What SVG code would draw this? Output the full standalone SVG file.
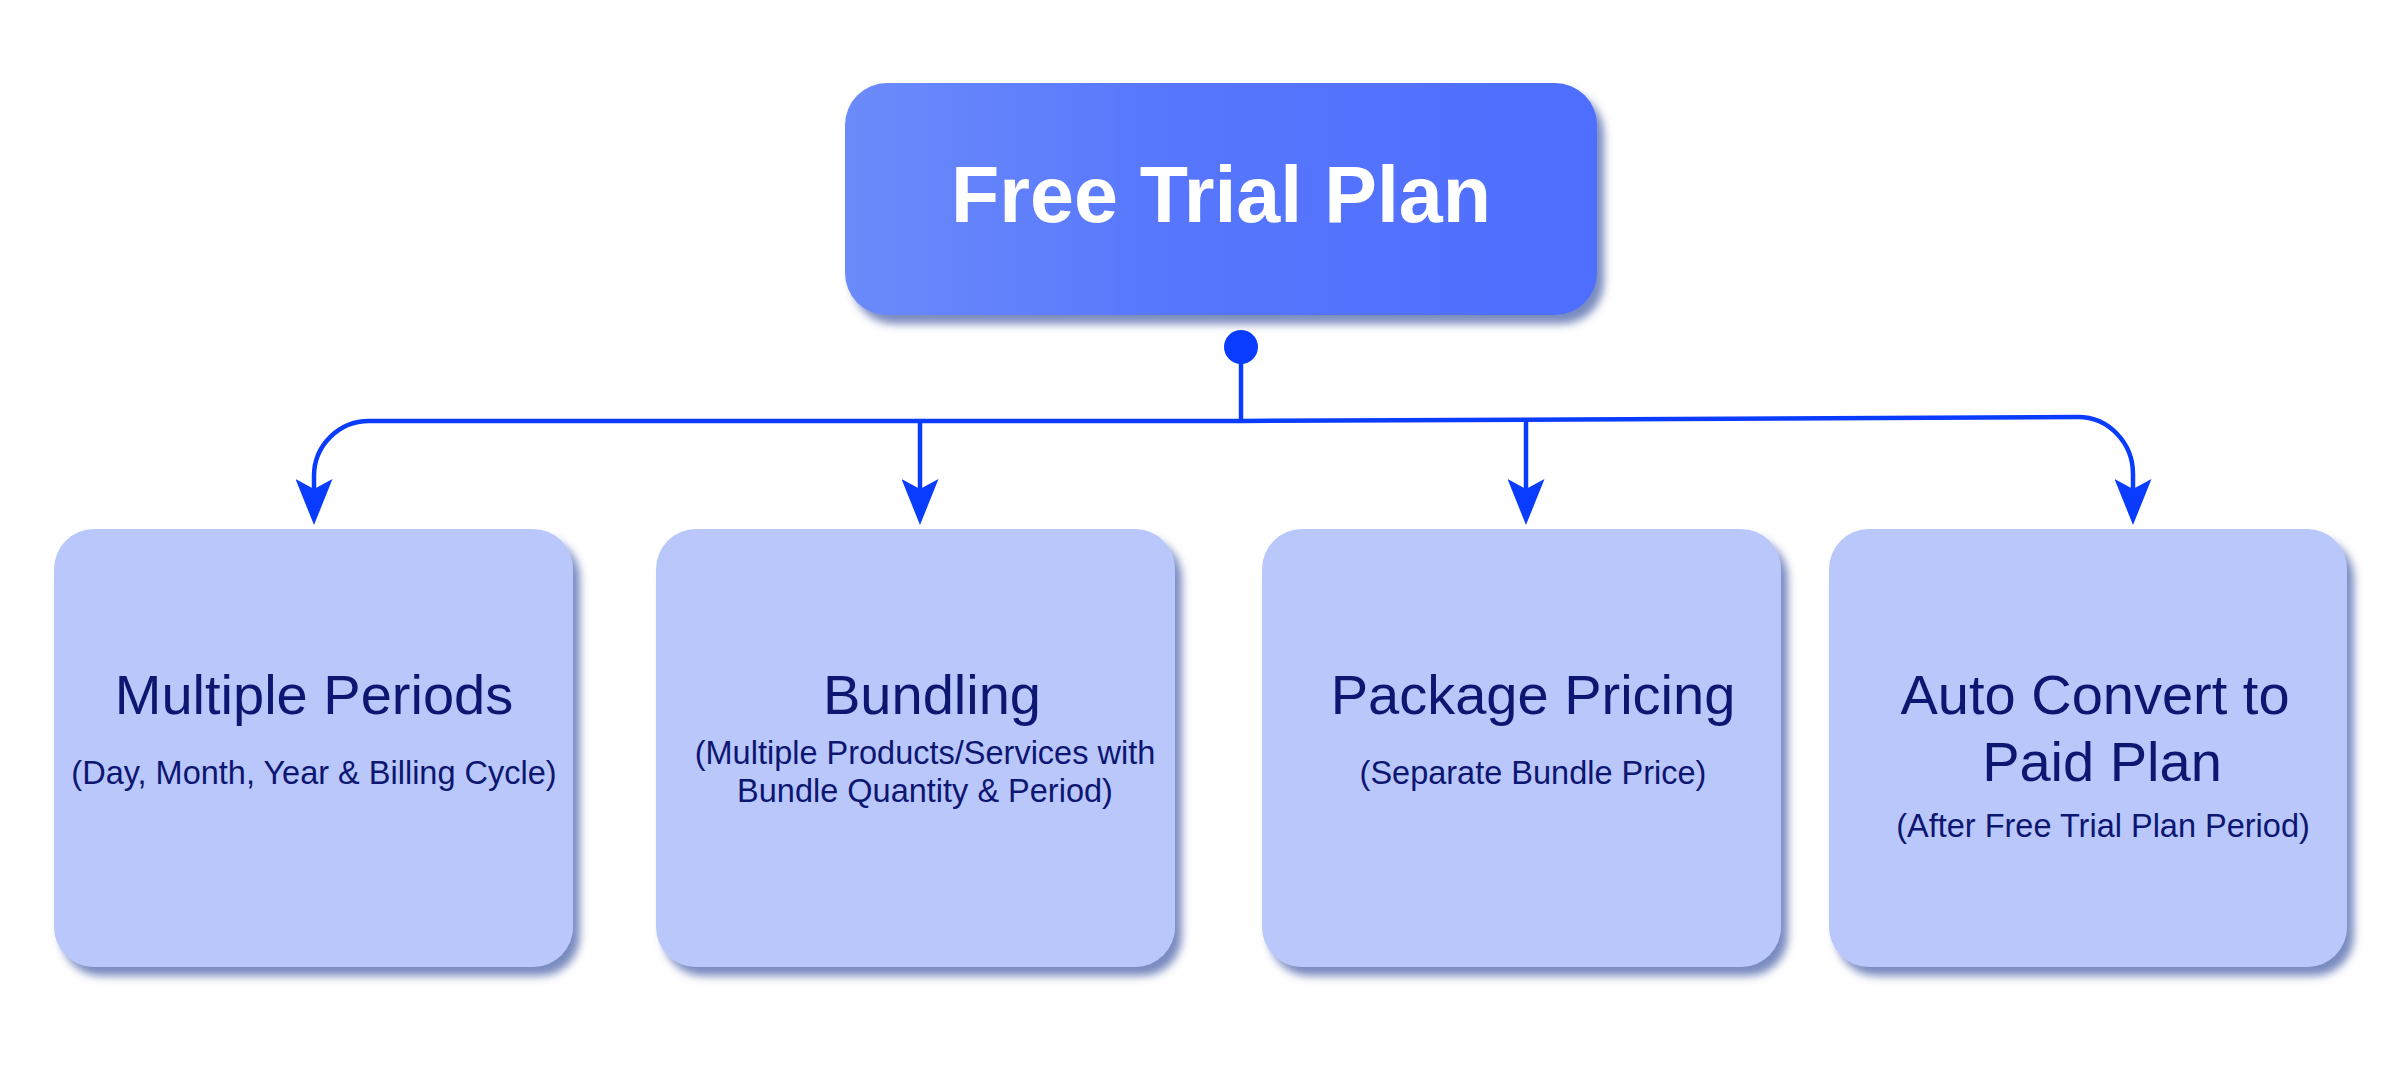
<svg xmlns="http://www.w3.org/2000/svg" width="2405" height="1084" viewBox="0 0 2405 1084">
<style>
.box{fill:#b9c7fb;filter:url(#sh);}
.t{font-family:"Liberation Sans",Arial,sans-serif;fill:#0d1670;text-anchor:middle;}
.h{font-size:56px;}
.s{font-size:32.5px;}
.c{fill:none;stroke:#0a3cff;stroke-width:4.5;}
</style>
<defs>
<linearGradient id="tg" x1="0" y1="0" x2="1" y2="0">
<stop offset="0" stop-color="#6c8bfa"/>
<stop offset="0.45" stop-color="#5676fd"/>
<stop offset="1" stop-color="#4e6efe"/>
</linearGradient>
<filter id="sh" x="-10%" y="-10%" width="125%" height="130%">
<feDropShadow dx="7" dy="9" stdDeviation="4.5" flood-color="#4e64aa" flood-opacity="0.75"/>
</filter>
<marker id="ah" viewBox="0 0 46 37" refX="16" refY="18.5" markerWidth="46" markerHeight="37" markerUnits="userSpaceOnUse" orient="auto">
<path d="M0,0 L46,18.5 L0,37 L10,18.5 Z" fill="#0a3cff"/>
</marker>
</defs>
<rect width="2405" height="1084" fill="#ffffff"/>
<g id="connectors">
<circle cx="1241" cy="347" r="17" fill="#0a3cff"/>
<path class="c" d="M1241,347 V421"/>
<path class="c" d="M1241,421 H369 A55,55 0 0 0 314,476 V495" marker-end="url(#ah)"/>
<path class="c" d="M920,421 V495" marker-end="url(#ah)"/>
<path class="c" d="M1526,420 V495" marker-end="url(#ah)"/>
<path class="c" d="M1241,421 L2078,417 A55,57 0 0 1 2133,474 V495" marker-end="url(#ah)"/>
</g>
<g id="free-trial-plan">
<rect x="845" y="83" width="752" height="232" rx="42" fill="url(#tg)" filter="url(#sh)"/>
<text x="1221" y="222" font-family="Liberation Sans, Arial, sans-serif" font-size="79" font-weight="bold" fill="#ffffff" text-anchor="middle">Free Trial Plan</text>
</g>
<g id="multiple-periods">
<rect class="box" x="54" y="529" width="519" height="438" rx="40"/>
<text class="t h" x="314" y="714">Multiple Periods</text>
<text class="t s" x="314" y="784">(Day, Month, Year &amp; Billing Cycle)</text>
</g>
<g id="bundling">
<rect class="box" x="656" y="529" width="519" height="438" rx="40"/>
<text class="t h" x="932" y="714">Bundling</text>
<text class="t s" x="925" y="764">(Multiple Products/Services with</text>
<text class="t s" x="925" y="802">Bundle Quantity &amp; Period)</text>
</g>
<g id="package-pricing">
<rect class="box" x="1262" y="529" width="519" height="438" rx="40"/>
<text class="t h" x="1533" y="714">Package Pricing</text>
<text class="t s" x="1533" y="784">(Separate Bundle Price)</text>
</g>
<g id="auto-convert">
<rect class="box" x="1829" y="529" width="518" height="438" rx="40"/>
<text class="t h" x="2095" y="714">Auto Convert to</text>
<text class="t h" x="2102" y="781">Paid Plan</text>
<text class="t s" x="2103" y="837">(After Free Trial Plan Period)</text>
</g>
</svg>
